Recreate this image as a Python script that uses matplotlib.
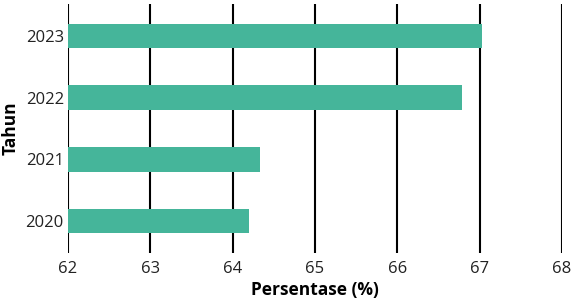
import matplotlib.pyplot as plt

plt.rcParams['font.family'] = ['Open Sans', 'DejaVu Sans']

years = ['2020', '2021', '2022', '2023']
values = [64.20, 64.33, 66.78, 67.03]
bar_color = '#45B59A'

fig = plt.figure(figsize=(5.77, 3.07), dpi=100)
ax = fig.add_axes([68 / 577, 1 - 253 / 307, (562 - 68) / 577, (253 - 4) / 307])

ax.barh(years, [v - 62 for v in values], left=62, height=0.4, color=bar_color, zorder=2)

ax.set_xlim(62, 68)
ax.set_ylim(-0.52, 3.52)
ax.set_xticks(range(62, 69))
ax.grid(axis='x', color='black', linewidth=1.5, zorder=1)
ax.set_axisbelow(True)
for s in ax.spines.values():
    s.set_visible(False)
ax.tick_params(axis='both', length=0, labelsize=12, colors='#222222')
ax.tick_params(axis='x', pad=6)
ax.tick_params(axis='y', pad=3)

ax.set_xlabel('Persentase (%)', fontsize=12.5, fontweight='bold', labelpad=3)
ax.set_ylabel('Tahun', fontsize=12.5, fontweight='bold', labelpad=4)

fig.savefig('out.png', dpi=100)
